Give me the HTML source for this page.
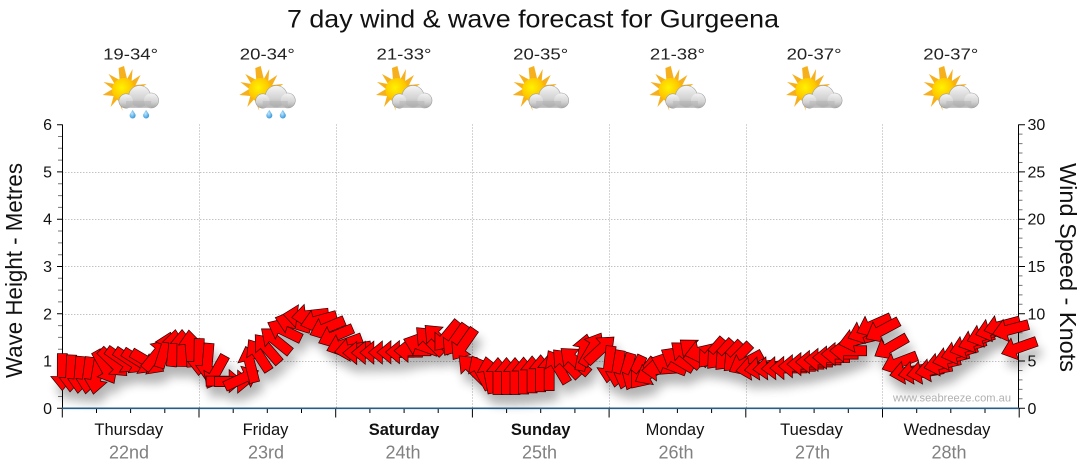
<!DOCTYPE html>
<html><head><meta charset="utf-8"><style>
html,body{margin:0;padding:0;background:#fff;}
svg{display:block;}
text{font-family:"Liberation Sans",Arial,sans-serif;}
</style></head><body>
<svg id="s" width="1080" height="475" viewBox="0 0 1080 475" xmlns="http://www.w3.org/2000/svg">
<defs>
<filter id="sh" x="-10%" y="-40%" width="120%" height="200%">
<feGaussianBlur in="SourceAlpha" stdDeviation="5" result="b"/>
<feOffset in="b" dx="4" dy="10" result="o"/>
<feComponentTransfer in="o" result="sd"><feFuncA type="linear" slope="0.3"/></feComponentTransfer>
<feMerge><feMergeNode in="sd"/><feMergeNode in="SourceGraphic"/></feMerge>
</filter>
<radialGradient id="sun" cx="0.4" cy="0.4" r="0.7"><stop offset="0" stop-color="#fff200"/><stop offset="0.6" stop-color="#ffc800"/><stop offset="1" stop-color="#f39c00"/></radialGradient>
<linearGradient id="cg" x1="0" y1="0" x2="0" y2="1"><stop offset="0" stop-color="#f4f4f4"/><stop offset="0.6" stop-color="#d2d2d2"/><stop offset="1" stop-color="#a9a9a9"/></linearGradient>
<radialGradient id="dg" cx="0.4" cy="0.4" r="0.7"><stop offset="0" stop-color="#bfe8ff"/><stop offset="1" stop-color="#2a8fd8"/></radialGradient>
<g id="icon">
<polygon points="-6.6,-26 -3.5,-13 2,-23 1,-11 10,-17 5,-7 16,-8 6,-1 -2,0 -8,3 -2,10 -10,8 -8,19 -13,7 -20,15 -17,4 -28,3 -18,-3 -27,-10 -16,-8 -22,-18 -11,-12 -12,-24" fill="#f6b01e"/>
<circle cx="-6.6" cy="-2" r="12" fill="url(#sun)"/>
<g fill="url(#cg)" stroke="#9a9a9a" stroke-width="0.6">
<circle cx="9" cy="4.5" r="11"/>
<circle cx="-4.5" cy="9" r="7.2"/>
<circle cx="20.5" cy="8.5" r="7.5"/>
</g>
<rect x="-4.5" y="6" width="25" height="9.8" fill="#c4c4c4"/>
<circle cx="9" cy="4.5" r="10.5" fill="url(#cg)"/>
<circle cx="-4.5" cy="9" r="6.8" fill="url(#cg)" opacity="0.9"/>
<circle cx="20.5" cy="8.5" r="7.1" fill="url(#cg)" opacity="0.9"/>
<rect x="-4.5" y="9" width="25" height="6.8" fill="#b4b4b4" opacity="0.5"/>
</g>
<g id="drops">
<path d="M2,18 C0,21 -1,22 -1,23.5 A3,3 0 0 0 5,23.5 C5,22 4,21 2,18 Z" fill="url(#dg)"/>
<path d="M15.5,18 C13.5,21 12.5,22 12.5,23.5 A3,3 0 0 0 18.5,23.5 C18.5,22 17.5,21 15.5,18 Z" fill="url(#dg)"/>
</g>
</defs>

<text x="533" y="27.5" font-size="25" text-anchor="middle" fill="#111" textLength="492" lengthAdjust="spacingAndGlyphs">7 day wind &amp; wave forecast for Gurgeena</text>

<g font-size="16" fill="#222" text-anchor="middle">
<text x="130.6" y="59.3" textLength="55" lengthAdjust="spacingAndGlyphs">19-34°</text>
<text x="267.3" y="59.3" textLength="55" lengthAdjust="spacingAndGlyphs">20-34°</text>
<text x="404" y="59.3" textLength="55" lengthAdjust="spacingAndGlyphs">21-33°</text>
<text x="540.7" y="59.3" textLength="55" lengthAdjust="spacingAndGlyphs">20-35°</text>
<text x="677.4" y="59.3" textLength="55" lengthAdjust="spacingAndGlyphs">21-38°</text>
<text x="814.1" y="59.3" textLength="55" lengthAdjust="spacingAndGlyphs">20-37°</text>
<text x="950.8" y="59.3" textLength="55" lengthAdjust="spacingAndGlyphs">20-37°</text>
</g>

<use href="#icon" x="130.6" y="92"/><use href="#drops" x="130.6" y="92"/>
<use href="#icon" x="267.3" y="92"/><use href="#drops" x="267.3" y="92"/>
<use href="#icon" x="404" y="92"/>
<use href="#icon" x="540.7" y="92"/>
<use href="#icon" x="677.4" y="92"/>
<use href="#icon" x="814.1" y="92"/>
<use href="#icon" x="950.8" y="92"/>

<g stroke="#a8a8a8" stroke-width="1" stroke-dasharray="1,2" fill="none">
<path d="M62.3,361.5H1018.5M62.3,314.5H1018.5M62.3,266.5H1018.5M62.3,219.5H1018.5M62.3,172.5H1018.5"/>
<path d="M199.5,124.5V408M336.5,124.5V408M472.5,124.5V408M609.5,124.5V408M746.5,124.5V408M882.5,124.5V408"/>
</g>

<g id="ticks"></g>

<path d="M62.5,124.5V408.5" stroke="#000" stroke-width="1"/>
<path d="M1018.5,124.5V408.5" stroke="#000" stroke-width="1"/>

<g id="arrows" filter="url(#sh)"></g>

<path d="M62,408.3H1019" stroke="#235d88" stroke-width="1.6"/>

<text x="893" y="401.5" font-size="11" fill="#b0b0b0" textLength="118" lengthAdjust="spacingAndGlyphs">www.seabreeze.com.au</text>

<g font-size="16" fill="#111" text-anchor="end">
<text x="52" y="413.8">0</text>
<text x="52" y="366.5">1</text>
<text x="52" y="319.3">2</text>
<text x="52" y="272">3</text>
<text x="52" y="224.7">4</text>
<text x="52" y="177.4">5</text>
<text x="52" y="130.1">6</text>
</g>
<g font-size="16" fill="#111" text-anchor="start">
<text x="1027.5" y="413.8">0</text>
<text x="1027.5" y="366.5">5</text>
<text x="1027.5" y="319.3">10</text>
<text x="1027.5" y="272">15</text>
<text x="1027.5" y="224.7">20</text>
<text x="1027.5" y="177.4">25</text>
<text x="1027.5" y="130.1">30</text>
</g>

<text transform="translate(22,270.5) rotate(-90)" font-size="23" fill="#111" text-anchor="middle" textLength="215" lengthAdjust="spacingAndGlyphs">Wave Height - Metres</text>
<text transform="translate(1060,267.5) rotate(90)" font-size="23" fill="#111" text-anchor="middle" textLength="209" lengthAdjust="spacingAndGlyphs">Wind Speed - Knots</text>

<g font-size="16.5" fill="#111" text-anchor="middle">
<text x="128.8" y="435">Thursday</text>
<text x="265.5" y="435">Friday</text>
<text x="404" y="435" font-weight="bold">Saturday</text>
<text x="540.7" y="435" font-weight="bold">Sunday</text>
<text x="675" y="435">Monday</text>
<text x="811.5" y="435">Tuesday</text>
<text x="947" y="435">Wednesday</text>
</g>
<g font-size="18" fill="#808080" text-anchor="middle">
<text x="129" y="458.5">22nd</text>
<text x="266" y="458.5">23rd</text>
<text x="403" y="458.5">24th</text>
<text x="539.5" y="458.5">25th</text>
<text x="676" y="458.5">26th</text>
<text x="812.5" y="458.5">27th</text>
<text x="949" y="458.5">28th</text>
</g>
</svg>
<script>
(function(){
var NS="http://www.w3.org/2000/svg";
var tk=document.getElementById('ticks');
var d1="",d2="";
for(var q=0;q<=24;q++){var y=(408.3-q*11.8175).toFixed(1);
 if(q%4==0){d1+="M57,"+y+"H62.5";}else{d2+="M58,"+y+"H62.5";}}
for(var k=0;k<=30;k++){var y2=(408.3-k*9.454).toFixed(1);
 if(k%5==0){d1+="M1018.5,"+y2+"H1025";}else{d2+="M1018.5,"+y2+"H1022.5";}}
for(var h=0;h<=28;h++){var x=(62.3+h*34.175).toFixed(1);
 if(h%4==0){d1+="M"+x+",408V417.5";}else{d1+="M"+x+",408V413";}}
var p1=document.createElementNS(NS,'path');p1.setAttribute('d',d1);p1.setAttribute('stroke','#000');p1.setAttribute('stroke-width','1');tk.appendChild(p1);
var p2=document.createElementNS(NS,'path');p2.setAttribute('d',d2);p2.setAttribute('stroke','#777');p2.setAttribute('stroke-width','1');tk.appendChild(p2);

var K=[[62,372,90],[80,375,95],[98,376,100],[106,366,55],[120,360,35],[150,362,30],[156,355,-50],[168,348,-80],[190,348,-95],[194,352,-95],[197,356,90],[208,362,95],[216,372,120],[222,381,0],[240,382,0],[246,370,-90],[255,358,-120],[272,345,-135],[285,330,-155],[300,317,-170],[312,315,-190],[330,330,-205],[345,345,-200],[360,353,-180],[410,352,-180],[418,348,-180],[425,342,-135],[440,338,-135],[447,336,-235],[465,345,-235],[470,368,-140],[485,374,-110],[495,376,-90],[520,376,-90],[550,372,-90],[560,365,-130],[578,360,-140],[585,350,-60],[600,348,-60],[604,362,95],[620,370,100],[640,374,120],[655,372,160],[668,365,200],[685,355,220],[700,350,220],[705,352,130],[740,358,135],[752,368,170],[790,368,180],[830,358,180],[850,350,180],[860,335,160],[878,322,155],[885,335,150],[895,355,150],[905,372,170],[930,372,170],[955,355,165],[980,338,160],[1000,325,165],[1012,330,165],[1020,350,160]];
var g=document.getElementById('arrows');
var N=112,x0=62.3,x1=1019;
for(var i=0;i<=N;i++){
 var x=x0+(x1-x0)*i/N;
 var j=0;while(j<K.length-2&&K[j+1][0]<x)j++;
 var a=K[j],b=K[j+1];
 var t=(x-a[0])/(b[0]-a[0]);if(t<0)t=0;if(t>1)t=1;
 var y=a[1]+(b[1]-a[1])*t,ang=a[2]+(b[2]-a[2])*t;
 var pg=document.createElementNS(NS,'polygon');
 pg.setAttribute('points','-18.5,-5 4.5,-5 4.5,-11.5 18.5,0 4.5,11.5 4.5,5 -18.5,5');
 pg.setAttribute('transform','translate('+x.toFixed(2)+','+y.toFixed(2)+') rotate('+ang.toFixed(1)+')');
 pg.setAttribute('fill','#ff0000');
 pg.setAttribute('stroke','#2a0000');
 pg.setAttribute('stroke-width','0.7');
 g.appendChild(pg);
}
})();
</script>
</body></html>
